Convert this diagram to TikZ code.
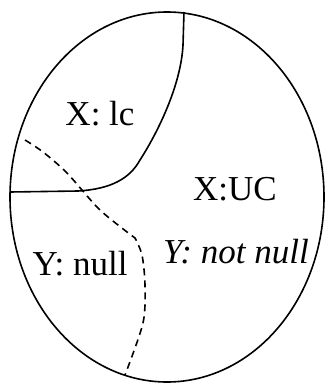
\documentclass[tikz,border=0pt]{standalone}
\usepackage{fontspec}
\setmainfont{Liberation Serif}

\begin{document}
\begin{tikzpicture}[x=1pt, y=-1pt, line width=1.6pt,
    regtext/.style={font=\fontsize{35}{40}\selectfont, anchor=base, inner sep=0pt},
    nullline/.style={dash pattern=on 7pt off 5pt}]
  \useasboundingbox (0,0) rectangle (325,383);
  % domain of the relation
  \draw (167,197) coordinate (O) ellipse [x radius=157, y radius=185];
  \coordinate (W) at (10,192);
  \coordinate (N) at (184,12);
  % region X: lc
  \draw (W) -- (78,191) .. controls (112,189) and (130,178) .. (140,160)
        .. controls (158,132) and (181,85) .. (183,45) -- (N);
  % boundary of Y: null
  \draw[nullline] plot[smooth] coordinates {(25,140) (43,152) (67,173) (100,210) (135,238)}
        -- plot[smooth] coordinates {(135,238) (142,255) (145,285) (143,323) (125,375)};
  \node[regtext] (lc) at (100,125) {X: lc};
  \node[regtext] (uc) at (235,200) {X:UC};
  \node[regtext] (yn) at (80,275) {Y: null};
  \node[regtext] (ynn) at (236,263) {\itshape Y: not null};
\end{tikzpicture}
\end{document}
